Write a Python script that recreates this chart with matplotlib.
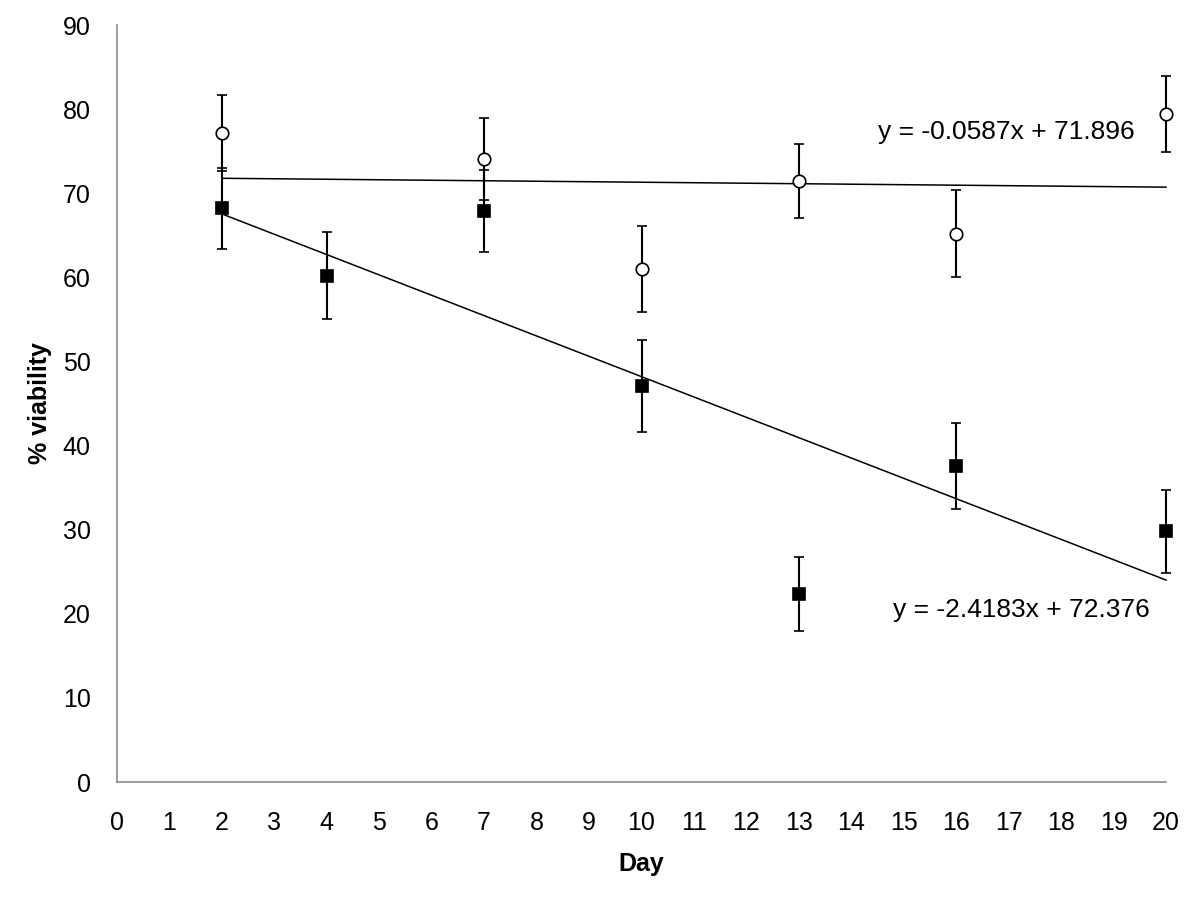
import numpy as np
import matplotlib
matplotlib.use("Agg")
import matplotlib.pyplot as plt

plt.rcParams['font.family'] = ['Liberation Sans', 'DejaVu Sans']

# open circles
days_open = [2, 7, 10, 13, 16, 20]
viab_open = [77.2, 74.1, 61.0, 71.4, 65.2, 79.4]
err_open = [4.5, 4.9, 5.1, 4.4, 5.2, 4.5]

# filled squares
days_sq = [2, 4, 7, 10, 13, 16, 20]
viab_sq = [68.2, 60.2, 67.9, 47.1, 22.4, 37.6, 29.8]
err_sq = [4.8, 5.2, 4.9, 5.5, 4.4, 5.1, 4.9]

# trendlines as printed on the chart
slope_open, icpt_open = -0.0587, 71.896
slope_sq, icpt_sq = -2.4183, 72.376
fit_x = [2, 20]

fig = plt.figure(figsize=(12, 9), dpi=100)
ax = fig.add_axes([0.0975, 0.1311, 0.8742, 0.8411])

xs = np.array(fit_x)
ax.plot(xs, slope_open * xs + icpt_open, color="black", lw=1.1, zorder=2, clip_on=False)
ax.plot(xs, slope_sq * xs + icpt_sq, color="black", lw=1.1, zorder=2, clip_on=False)

for d, v, e, m, fc in [(days_open, viab_open, err_open, "o", "white"),
                       (days_sq, viab_sq, err_sq, "s", "black")]:
    cont = ax.errorbar(d, v, yerr=e, fmt=m, ms=9, mfc=fc, mec="black", mew=1.2,
                       ecolor="black", elinewidth=1.5, capsize=3.5, capthick=1.5, zorder=3)
    for art in cont.get_children():
        art.set_clip_on(False)

ax.text(14.5, 77.3, "y = -0.0587x + 71.896", fontsize=19, ha="left", va="center")
ax.text(14.8, 20.4, "y = -2.4183x + 72.376", fontsize=19, ha="left", va="center")

ax.set_xlim(0, 20)
ax.set_ylim(0, 90)
ax.set_xticks(range(0, 21))
ax.set_yticks(range(0, 91, 10))
ax.tick_params(length=0, labelsize=18)
ax.tick_params(axis="x", pad=21)
ax.tick_params(axis="y", pad=19)
for s in ["top", "right"]:
    ax.spines[s].set_visible(False)
for s in ["left", "bottom"]:
    ax.spines[s].set_color("#8c8c8c")
    ax.spines[s].set_linewidth(1.2)

ax.set_xlabel("Day", fontsize=18, fontweight="bold", labelpad=12)
ax.set_ylabel("% viability", fontsize=18, fontweight="bold", labelpad=8)

fig.savefig("out.png", dpi=100)
